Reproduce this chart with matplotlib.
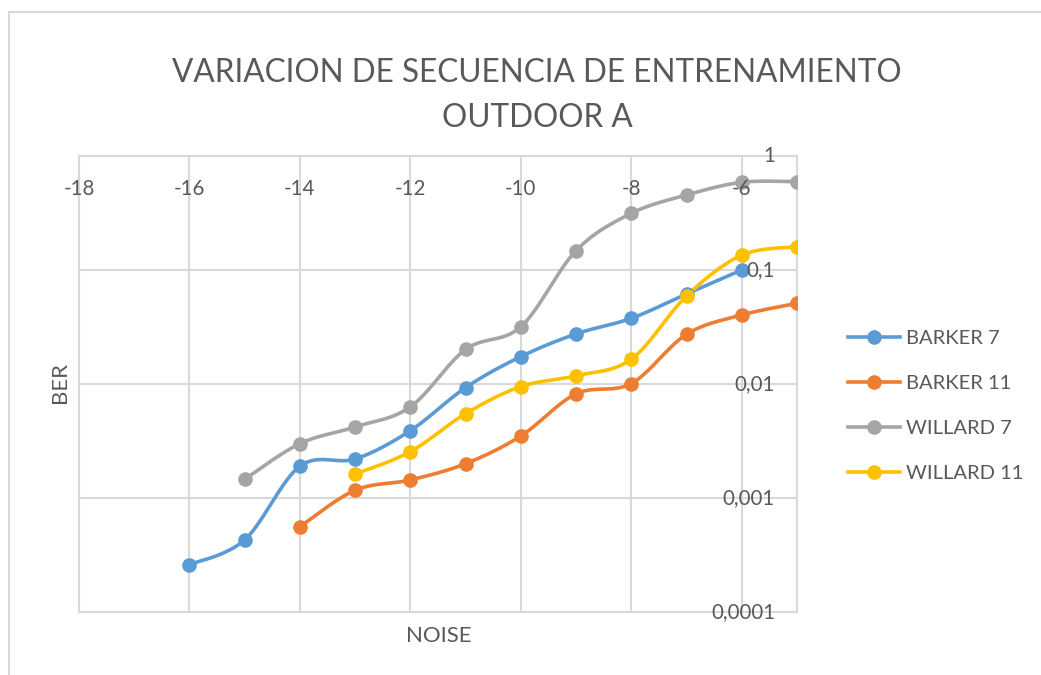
import numpy as np
import matplotlib.pyplot as plt
from matplotlib.patches import Rectangle
from matplotlib.ticker import NullLocator
from matplotlib.lines import Line2D

plt.rcParams['font.family'] = ['Lato', 'DejaVu Sans']

TEXT = '#595959'
GRID = '#D9D9D9'

# BER per noise level for each training sequence
barker7_x = [-16, -15, -14, -13, -12, -11, -10, -9, -8, -7, -6]
barker7 = [2.6e-4, 4.3e-4, 1.9e-3, 2.2e-3, 3.9e-3, 9.3e-3, 0.0174, 0.0275, 0.0377, 0.0616, 0.1]

barker11_x = [-14, -13, -12, -11, -10, -9, -8, -7, -6, -5]
barker11 = [5.6e-4, 1.17e-3, 1.44e-3, 2.0e-3, 3.5e-3, 8.2e-3, 0.0101, 0.0273, 0.0403, 0.051]

willard7_x = [-15, -14, -13, -12, -11, -10, -9, -8, -7, -6, -5]
willard7 = [1.46e-3, 3.0e-3, 4.2e-3, 6.3e-3, 0.0201, 0.0318, 0.148, 0.314, 0.455, 0.588, 0.595]

willard11_x = [-13, -12, -11, -10, -9, -8, -7, -6, -5]
willard11 = [1.62e-3, 2.55e-3, 5.5e-3, 9.5e-3, 0.0118, 0.0165, 0.0592, 0.135, 0.160]

series = [
    ('BARKER 7', barker7_x, barker7, '#5B9BD5'),
    ('BARKER 11', barker11_x, barker11, '#ED7D31'),
    ('WILLARD 7', willard7_x, willard7, '#A5A5A5'),
    ('WILLARD 11', willard11_x, willard11, '#FFC000'),
]

x_ticks = [-18, -16, -14, -12, -10, -8, -6]
y_ticks = [1e-4, 1e-3, 1e-2, 1e-1, 1]
y_labels = ['0,0001', '0,001', '0,01', '0,1', '1']


def smooth(xs, ys, n=24):
    # cubic bezier through the points (catmull-rom control points), in log space
    pts = np.column_stack([np.asarray(xs, float), np.log10(ys)])
    P = np.vstack([pts[0], pts, pts[-1]])
    t = np.linspace(0, 1, n)[:, None]
    segs = []
    for i in range(1, len(P) - 2):
        p0, p1, p2, p3 = P[i - 1], P[i], P[i + 1], P[i + 2]
        c1 = p1 + (p2 - p0) / 6
        c2 = p2 - (p3 - p1) / 6
        segs.append((1 - t) ** 3 * p1 + 3 * (1 - t) ** 2 * t * c1
                    + 3 * (1 - t) * t ** 2 * c2 + t ** 3 * p2)
    c = np.vstack(segs)
    return c[:, 0], 10 ** c[:, 1]


W, H = 1041, 675
fig = plt.figure(figsize=(W / 100, H / 100), dpi=100)
fig.patches.append(Rectangle((9 / W, -0.05), 1.1, 1 - 12 / H + 0.05, transform=fig.transFigure,
                             fill=False, edgecolor=GRID, lw=1.5))

ax = fig.add_axes([79 / W, 1 - 612 / H, (797 - 79) / W, (612 - 156) / H])
ax.set_yscale('log')
ax.set_xlim(-18, -5)
ax.set_ylim(1e-4, 1)
ax.set_xticks(x_ticks)
ax.set_yticks(y_ticks)
ax.yaxis.set_minor_locator(NullLocator())
ax.tick_params(length=0, labelbottom=False, labelleft=False)
ax.grid(True, color=GRID, lw=1.5)
ax.set_axisbelow(True)
for s in ax.spines.values():
    s.set_color(GRID)
    s.set_linewidth(1.5)

for name, xs, ys, col in series:
    sx, sy = smooth(xs, ys)
    ax.plot(sx, sy, color=col, lw=2.6, solid_capstyle='round', zorder=3)
    ax.plot(xs, ys, 'o', color=col, ms=9.5, zorder=4)

# axis labels sit inside the plot, next to the top and right axes
for x in x_ticks:
    ax.annotate(str(x), xy=(x, 1), xytext=(0, -33), textcoords='offset pixels',
                ha='center', va='center', fontsize=14.8, color=TEXT, zorder=5)
for v, lab in zip(y_ticks, y_labels):
    ax.annotate(lab, xy=(-5, v), xytext=(-22, 0), textcoords='offset pixels',
                ha='right', va='center', fontsize=14.8, color=TEXT, zorder=5)

fig.text(537 / W, 1 - 82 / H, 'VARIACION DE SECUENCIA DE ENTRENAMIENTO',
         ha='center', va='baseline', fontsize=22.7, color=TEXT)
fig.text(537 / W, 1 - 127 / H, 'OUTDOOR A',
         ha='center', va='baseline', fontsize=22.7, color=TEXT)
fig.text(439 / W, 1 - 642 / H, 'NOISE', ha='center', va='baseline', fontsize=16, color=TEXT)
fig.text(60 / W, 1 - 383 / H, 'BER', ha='center', va='center', rotation=90,
         fontsize=16, color=TEXT)

handles = [Line2D([], [], color=c, lw=2.6, marker='o', ms=9.5) for _, _, _, c in series]
fig.legend(handles, [s[0] for s in series], loc='upper left',
           bbox_to_anchor=(848 / W, 1 - 330 / H), frameon=False, fontsize=14.5,
           labelcolor=TEXT, handlelength=2.6, handletextpad=0.3, labelspacing=1.38,
           borderaxespad=0, borderpad=0)

fig.savefig('out.png', dpi=100)
